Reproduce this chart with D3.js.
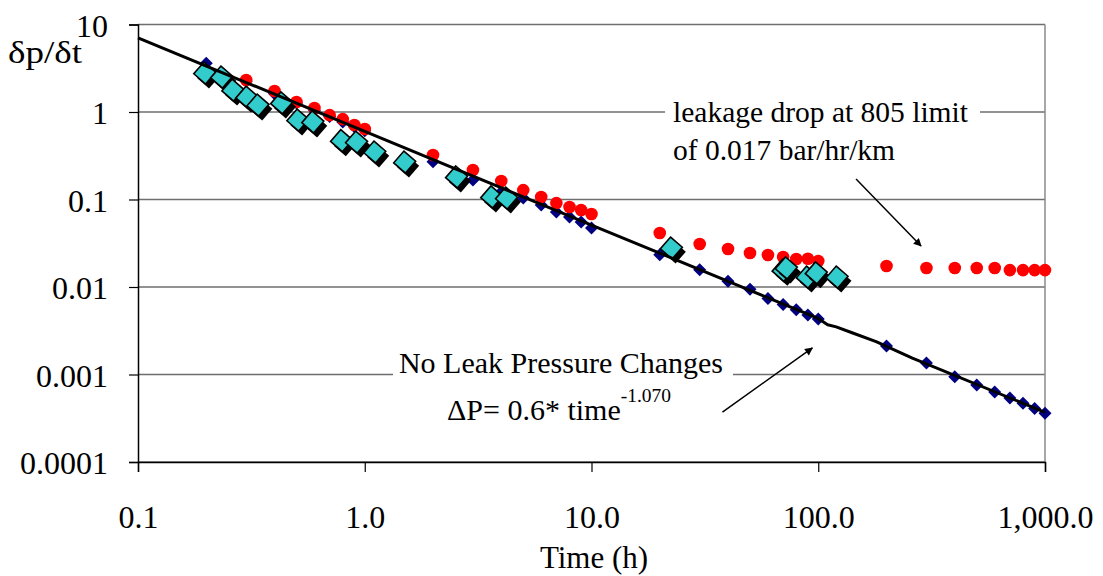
<!DOCTYPE html>
<html>
<head>
<meta charset="utf-8">
<script src="https://d3js.org/d3.v7.min.js"></script>
<style>
  body { margin: 0; background: #fff; }
  text { font-family: "Liberation Serif", "Times New Roman", serif; fill: #000; }
</style>
</head>
<body>
<div id="graphic"></div>
<script>
// chart data
const yTicks = [10, 1, 0.1, 0.01, 0.001, 0.0001];
const yTickLabels = ["10", "1", "0.1", "0.01", "0.001", "0.0001"];
const xTicks = [0.1, 1, 10, 100, 1000];
const xTickLabels = ["0.1", "1.0", "10.0", "100.0", "1,000.0"];

// no-leak measurements (navy diamonds)
const noLeakTime = [0.2, 0.3, 0.4, 0.5, 0.6, 0.7, 0.8, 0.9, 1,
    2, 3, 4, 5, 6, 7, 8, 9, 10,
    20, 30, 40, 50, 60, 70, 80, 90, 100,
    200, 300, 400, 500, 600, 700, 800, 900, 1000];
const noLeakValue = [3.6, 2.25, 1.62, 1.27, 1.05, 0.89, 0.77, 0.68, 0.61,
    0.27, 0.167, 0.122, 0.104, 0.0865, 0.072, 0.063, 0.0553, 0.0472,
    0.0234, 0.0157, 0.0116, 0.0094, 0.0074, 0.0063, 0.0055, 0.0048, 0.0043,
    0.00212, 0.00135, 0.00094, 0.00076, 0.00063, 0.00054, 0.00047, 0.00041, 0.00036];

// leakage measurements (red dots)
const leakTime = [0.3, 0.4, 0.5, 0.6, 0.7, 0.8, 0.9, 1,
    2, 3, 4, 5, 6, 7, 8, 9, 10,
    20, 30, 40, 50, 60, 70, 80, 90, 100,
    200, 300, 400, 500, 600, 700, 800, 900, 1000];
const leakValue = [2.32, 1.74, 1.3, 1.11, 0.92, 0.83, 0.71, 0.64,
    0.323, 0.217, 0.163, 0.128, 0.107, 0.091, 0.082, 0.0758, 0.0683,
    0.0414, 0.031, 0.0272, 0.0245, 0.0232, 0.022, 0.0209, 0.021, 0.0198,
    0.0174, 0.0165, 0.0165, 0.0165, 0.0165, 0.0156, 0.0156, 0.0156, 0.0156];

// second test series (cyan diamonds)
const testTime = [0.197, 0.234, 0.262, 0.302, 0.338, 0.43, 0.507, 0.59, 0.79, 0.92,
    1.107, 1.5, 2.54, 3.63, 4.22, 22.5, 70, 72.3, 89.5, 98, 121];
const testValue = [2.79, 2.51, 1.78, 1.48, 1.2, 1.27, 0.81, 0.77, 0.47, 0.454,
    0.349, 0.268, 0.181, 0.107, 0.104, 0.0279, 0.0155, 0.0165, 0.013, 0.0145, 0.013];

// fitted no-leak curve (black line)
const fitTime = [0.1, 1, 10, 100, 110, 120, 140, 180, 260, 1000];
const fitValue = [7.05, 0.6, 0.0511, 0.00437, 0.0037, 0.0035, 0.00302, 0.00237, 0.00154, 0.00037];

// set the dimensions and margins of the graph
const width = 1103;
const height = 576;
const plot = {left: 138, right: 1045, top: 24.5, bottom: 462};

const svg = d3.select("#graphic")
    .append("svg")
    .attr("width", width)
    .attr("height", height);

const defs = svg.append("defs");
defs.append("marker")
    .attr("id", "arrow")
    .attr("viewBox", "0 0 10 10")
    .attr("refX", 9)
    .attr("refY", 5)
    .attr("markerWidth", 10)
    .attr("markerHeight", 8)
    .attr("markerUnits", "userSpaceOnUse")
    .attr("orient", "auto")
    .append("path")
        .attr("d", "M0,0 L10,5 L0,10 z")
        .attr("fill", "#000");

const x = d3.scaleLog()
    .domain([0.1, 1000])
    .range([plot.left, plot.right]);

const y = d3.scaleLog()
    .domain([0.0001, 10])
    .range([plot.bottom, plot.top]);

// horizontal gridlines
svg.append("g")
    .selectAll("line")
    .data(yTicks)
    .enter().append("line")
        .attr("x1", plot.left)
        .attr("x2", plot.right)
        .attr("y1", d => y(d))
        .attr("y2", d => y(d))
        .style("stroke", "#6e6e6e")
        .style("stroke-width", 1.3);

// right border
svg.append("line")
    .attr("x1", plot.right).attr("x2", plot.right)
    .attr("y1", plot.top).attr("y2", plot.bottom)
    .style("stroke", "#8a8a8a")
    .style("stroke-width", 1.5);

// white boxes behind the annotations (hide the gridlines)
svg.append("rect")
    .attr("x", 665).attr("y", 92)
    .attr("width", 315).attr("height", 78)
    .attr("fill", "#fff");
svg.append("rect")
    .attr("x", 393).attr("y", 348)
    .attr("width", 340).attr("height", 80)
    .attr("fill", "#fff");

// y axis
const yAxis = svg.append("g")
    .attr("transform", `translate(${plot.left},0)`)
    .call(d3.axisLeft(y).tickValues(yTicks).tickSize(9).tickFormat((d, i) => yTickLabels[i]));
yAxis.select(".domain").attr("stroke", "#000").attr("stroke-width", 1.5);
yAxis.selectAll(".tick line").attr("stroke", "#000").attr("stroke-width", 1.2);
yAxis.selectAll("text")
    .attr("x", -30)
    .attr("dy", "0.36em")
    .style("font-size", "32px");

// x axis
const xAxis = svg.append("g")
    .attr("transform", `translate(0,${plot.bottom})`)
    .call(d3.axisBottom(x).tickValues(xTicks).tickSize(10).tickFormat((d, i) => xTickLabels[i]));
xAxis.select(".domain").attr("stroke", "#000").attr("stroke-width", 1.5);
xAxis.selectAll(".tick line").attr("stroke", "#000").attr("stroke-width", 1.2);
xAxis.selectAll("text")
    .attr("y", 66)
    .attr("dy", 0)
    .style("font-size", "32px");

// axis titles
svg.append("text")
    .attr("x", 594)
    .attr("y", 568)
    .attr("text-anchor", "middle")
    .style("font-size", "31px")
    .text("Time (h)");

svg.append("text")
    .attr("x", 8)
    .attr("y", 63)
    .attr("textLength", 74)
    .attr("lengthAdjust", "spacingAndGlyphs")
    .style("font-size", "32px")
    .text("δp/δt");

// no-leak points
const noLeak = noLeakTime.map((t, i) => ({t: t, v: noLeakValue[i]}));
svg.append("g")
    .selectAll("path")
    .data(noLeak)
    .enter().append("path")
        .attr("d", "M0,-6.5 L6.5,0 L0,6.5 L-6.5,0 Z")
        .attr("transform", d => `translate(${x(d.t)},${y(d.v)})`)
        .attr("fill", "#000080");

// leak points
const leak = leakTime.map((t, i) => ({t: t, v: leakValue[i]}));
svg.append("g")
    .selectAll("circle")
    .data(leak)
    .enter().append("circle")
        .attr("cx", d => x(d.t))
        .attr("cy", d => y(d.v))
        .attr("r", 6.3)
        .attr("fill", "#ff0000");

// cyan diamonds with shadow
const test = testTime.map((t, i) => ({t: t, v: testValue[i]}));
const diamond = "M0,-11 L11,0 L0,11 L-11,0 Z";
const testNode = svg.append("g")
    .selectAll("g")
    .data(test)
    .enter().append("g")
        .attr("transform", d => `translate(${x(d.t)},${y(d.v)})`);
testNode.append("path")
    .attr("d", diamond)
    .attr("transform", "translate(3.5,4.5) rotate(-4)")
    .attr("fill", "#000");
testNode.append("path")
    .attr("d", diamond)
    .attr("transform", "rotate(-4)")
    .attr("fill", "#33cccc")
    .attr("stroke", "#000")
    .attr("stroke-width", 1.6);

// fitted line
const fit = fitTime.map((t, i) => ({t: t, v: fitValue[i]}));
svg.append("path")
    .datum(fit)
    .attr("fill", "none")
    .attr("stroke", "#000")
    .attr("stroke-width", 3)
    .attr("stroke-linejoin", "round")
    .attr("d", d3.line()
        .x(d => x(d.t))
        .y(d => y(d.v))
    );

// annotations
const leakNote = svg.append("text")
    .attr("x", 673)
    .attr("y", 122)
    .style("font-size", "29.5px");
leakNote.append("tspan").text("leakage drop at 805 limit");
leakNote.append("tspan").attr("x", 673).attr("y", 160).text("of 0.017 bar/hr/km");

svg.append("text")
    .attr("x", 561)
    .attr("y", 373)
    .attr("text-anchor", "middle")
    .style("font-size", "30px")
    .text("No Leak Pressure Changes");

const eq = svg.append("text")
    .attr("x", 447)
    .attr("y", 420)
    .style("font-size", "30px");
eq.append("tspan").text("ΔP= 0.6* time");
eq.append("tspan")
    .attr("dy", -18)
    .style("font-size", "19.5px")
    .text("-1.070");

// arrows (positions in data units)
const arrowFrom = [[146.8, 0.1715], [37.8, 0.000372]];
const arrowTo = [[284, 0.0294], [94.2, 0.00201]];
svg.append("g")
    .selectAll("line")
    .data(arrowFrom)
    .enter().append("line")
        .attr("x1", d => x(d[0]))
        .attr("y1", d => y(d[1]))
        .attr("x2", (d, i) => x(arrowTo[i][0]))
        .attr("y2", (d, i) => y(arrowTo[i][1]))
        .attr("stroke", "#000")
        .attr("stroke-width", 1.5)
        .attr("marker-end", "url(#arrow)");
</script>
</body>
</html>
